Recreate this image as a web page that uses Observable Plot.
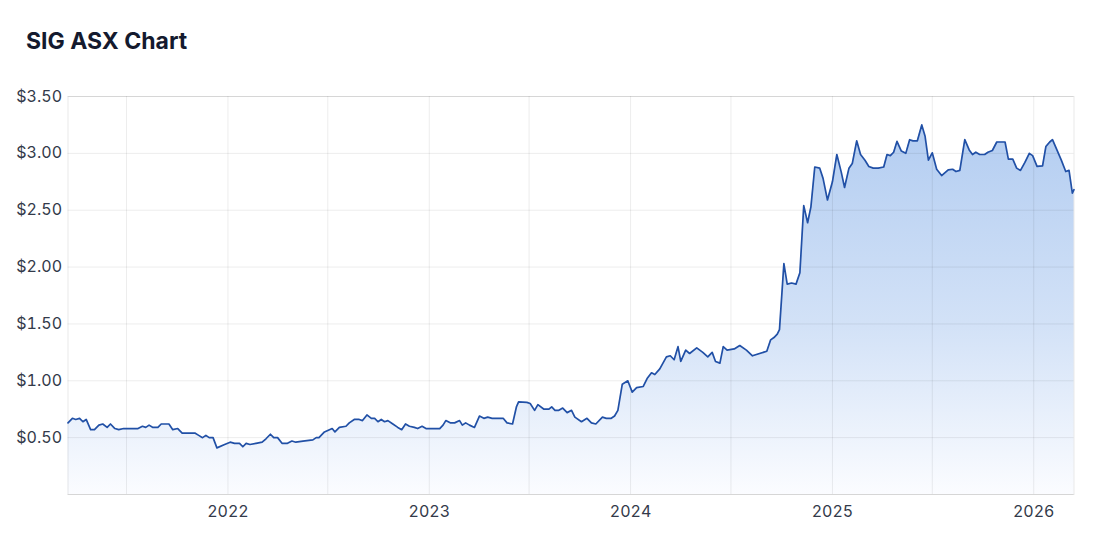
<!DOCTYPE html>
<html>
<head>
<meta charset="utf-8">
<script src="https://cdn.jsdelivr.net/npm/d3@7"></script>
<script src="https://cdn.jsdelivr.net/npm/@observablehq/plot@0.6"></script>
<style>
  html, body { margin: 0; padding: 0; background: #fff; }
  body { width: 1105px; height: 556px; overflow: hidden; font-family: Inter, "Noto Sans", sans-serif; }
  #title { height: 70px; box-sizing: border-box; padding: 26px 0 0 26px; font-size: 23px; font-weight: 700; color: #141a2e; line-height: 30px; }
  #chart svg { display: block; }
</style>
</head>
<body>
<div id="title">SIG ASX Chart</div>
<div id="chart"></div>
<script>
const dates = [
 "2021-03-17","2021-03-25","2021-03-31","2021-04-07","2021-04-13","2021-04-19","2021-04-27","2021-05-04","2021-05-12","2021-05-19",
 "2021-05-27","2021-06-02","2021-06-10","2021-06-17","2021-06-26","2021-07-22","2021-07-30","2021-08-05","2021-08-11","2021-08-18",
 "2021-08-27","2021-09-02","2021-09-16","2021-09-23","2021-10-02","2021-10-10","2021-11-02","2021-11-09","2021-11-16","2021-11-22",
 "2021-11-28","2021-12-05","2021-12-12","2021-12-26","2022-01-05","2022-01-13","2022-01-22","2022-01-28","2022-02-03","2022-02-10",
 "2022-02-21","2022-03-04","2022-03-11","2022-03-19","2022-03-25","2022-04-01","2022-04-09","2022-04-19","2022-04-27","2022-05-04",
 "2022-05-17","2022-06-04","2022-06-10","2022-06-15","2022-06-25","2022-07-04","2022-07-09","2022-07-14","2022-07-22","2022-08-03",
 "2022-08-09","2022-08-18","2022-08-27","2022-09-02","2022-09-10","2022-09-18","2022-09-24","2022-09-30","2022-10-06","2022-10-12",
 "2022-10-18","2022-10-27","2022-11-05","2022-11-12","2022-11-19","2022-11-26","2022-12-05","2022-12-11","2022-12-19","2022-12-26",
 "2023-01-20","2023-01-26","2023-01-31","2023-02-08","2023-02-16","2023-02-25","2023-03-02","2023-03-08","2023-03-15","2023-03-24",
 "2023-04-02","2023-04-10","2023-04-17","2023-04-25","2023-05-15","2023-05-22","2023-06-01","2023-06-08","2023-06-12","2023-06-27",
 "2023-07-03","2023-07-11","2023-07-17","2023-07-28","2023-08-06","2023-08-11","2023-08-17","2023-08-24","2023-08-31","2023-09-08",
 "2023-09-16","2023-09-22","2023-10-04","2023-10-14","2023-10-22","2023-10-30","2023-11-11","2023-11-18","2023-11-27","2023-12-03",
 "2023-12-09","2023-12-17","2023-12-27","2024-01-04","2024-01-12","2024-01-24","2024-01-31","2024-02-08","2024-02-14","2024-02-23",
 "2024-03-06","2024-03-13","2024-03-20","2024-03-27","2024-04-01","2024-04-10","2024-04-17","2024-04-30","2024-05-11","2024-05-20",
 "2024-05-28","2024-06-03","2024-06-11","2024-06-17","2024-06-24","2024-07-07","2024-07-17","2024-07-29","2024-08-09","2024-09-04",
 "2024-09-11","2024-09-17","2024-09-23","2024-09-27","2024-10-05","2024-10-11","2024-10-19","2024-10-27","2024-11-03","2024-11-10",
 "2024-11-17","2024-11-23","2024-11-30","2024-12-09","2024-12-15","2024-12-23","2025-01-01","2025-01-09","2025-01-17","2025-01-23",
 "2025-01-31","2025-02-06","2025-02-14","2025-02-21","2025-03-01","2025-03-08","2025-03-16","2025-03-25","2025-04-04","2025-04-10",
 "2025-04-16","2025-04-22","2025-04-28","2025-05-06","2025-05-14","2025-05-21","2025-05-27","2025-06-04","2025-06-12","2025-06-18",
 "2025-06-24","2025-07-01","2025-07-09","2025-07-18","2025-07-30","2025-08-07","2025-08-13","2025-08-20","2025-08-29","2025-09-06",
 "2025-09-12","2025-09-18","2025-09-25","2025-10-04","2025-10-10","2025-10-18","2025-10-26","2025-11-10","2025-11-16","2025-11-24",
 "2025-12-01","2025-12-08","2025-12-16","2025-12-24","2025-12-30","2026-01-07","2026-01-17","2026-01-23","2026-01-30","2026-02-04",
 "2026-02-12","2026-02-20","2026-02-28","2026-03-06","2026-03-12","2026-03-15"
];
const prices = [
 0.63,0.67,0.66,0.67,0.64,0.66,0.57,0.57,0.61,0.62,
 0.59,0.62,0.58,0.57,0.58,0.58,0.60,0.59,0.61,0.59,
 0.59,0.62,0.62,0.57,0.58,0.54,0.54,0.52,0.50,0.52,
 0.50,0.50,0.41,0.44,0.46,0.45,0.45,0.42,0.45,0.44,
 0.45,0.46,0.49,0.53,0.50,0.50,0.45,0.45,0.47,0.46,
 0.47,0.48,0.50,0.50,0.55,0.57,0.58,0.55,0.59,0.60,
 0.63,0.66,0.66,0.65,0.70,0.67,0.67,0.64,0.66,0.64,
 0.65,0.62,0.59,0.57,0.62,0.60,0.59,0.58,0.60,0.58,
 0.58,0.61,0.65,0.63,0.63,0.65,0.61,0.63,0.61,0.59,
 0.69,0.67,0.68,0.67,0.67,0.63,0.62,0.77,0.815,0.81,
 0.80,0.74,0.79,0.75,0.75,0.77,0.74,0.74,0.76,0.72,
 0.74,0.68,0.64,0.67,0.63,0.62,0.68,0.67,0.67,0.69,
 0.74,0.97,1.00,0.90,0.94,0.95,1.02,1.07,1.055,1.105,
 1.21,1.22,1.185,1.30,1.17,1.27,1.24,1.29,1.25,1.21,
 1.25,1.17,1.155,1.30,1.27,1.28,1.31,1.27,1.22,1.26,
 1.36,1.38,1.41,1.45,2.03,1.85,1.86,1.85,1.95,2.54,
 2.39,2.53,2.88,2.87,2.78,2.59,2.75,2.99,2.835,2.70,
 2.87,2.91,3.11,2.99,2.94,2.885,2.87,2.87,2.88,2.99,
 2.98,3.01,3.105,3.02,3.00,3.12,3.11,3.11,3.25,3.15,
 2.94,3.005,2.86,2.805,2.855,2.86,2.84,2.85,3.12,3.03,
 2.99,3.01,2.99,2.99,3.01,3.025,3.10,3.10,2.95,2.95,
 2.87,2.85,2.92,3.00,2.98,2.885,2.89,3.06,3.10,3.12,
 3.03,2.94,2.84,2.85,2.65,2.68
];
const yTicks = [0.5, 1.0, 1.5, 2.0, 2.5, 3.0, 3.5];
const yGrid = [0, 0.5, 1.0, 1.5, 2.0, 2.5, 3.0, 3.5];
const xLabelTicks = ["2022-01-01","2023-01-01","2024-01-01","2025-01-01","2026-01-01"];
const xGridTicks = ["2021-07-01","2022-01-01","2022-07-01","2023-01-01","2023-07-01","2024-01-01","2024-07-01","2025-01-01","2025-07-01","2026-01-01"];

const rows = dates.map((d, i) => ({date: new Date(d), price: prices[i]}));
const xLabelDates = xLabelTicks.map(d => new Date(d));
const xGridDates = xGridTicks.map(d => new Date(d));

const chart = Plot.plot({
  width: 1105,
  height: 486,
  marginTop: 26,
  marginBottom: 62,
  marginLeft: 67.5,
  marginRight: 31.5,
  style: {fontFamily: "Inter, 'Noto Sans', sans-serif", fontSize: "15px", color: "#333a4a", background: "#fff"},
  x: {type: "utc", domain: d3.extent(rows, d => d.date)},
  y: {domain: [0, 3.5]},
  marks: [
    Plot.areaY(rows, {x: "date", y: "price", fill: "url(#sigGrad)"}),
    Plot.gridX(xGridDates, {stroke: "#000", strokeOpacity: 0.075, strokeWidth: 1}),
    Plot.gridY(yGrid, {stroke: "#000", strokeOpacity: 0.075, strokeWidth: 1}),
    Plot.frame({stroke: "#000", strokeOpacity: 0.09}),
    Plot.lineY(rows, {x: "date", y: "price", stroke: "#2150a6", strokeWidth: 1.7, strokeLinejoin: "round"}),
    Plot.axisY(yTicks, {tickSize: 0, tickPadding: 6, tickFormat: d => "$" + d.toFixed(2), fontSize: 16, label: null}),
    Plot.axisX(xLabelDates, {tickSize: 0, tickPadding: 11, tickFormat: d3.utcFormat("%Y"), fontSize: 16, label: null})
  ]
});

const ns = "http://www.w3.org/2000/svg";
const defs = document.createElementNS(ns, "defs");
const grad = document.createElementNS(ns, "linearGradient");
grad.setAttribute("id", "sigGrad");
grad.setAttribute("x1", "0"); grad.setAttribute("y1", "0");
grad.setAttribute("x2", "0"); grad.setAttribute("y2", "1");
[["0%", "#b3cdf1"], ["55%", "#d3e2f7"], ["100%", "#fbfcff"]].forEach(([o, c]) => {
  const s = document.createElementNS(ns, "stop");
  s.setAttribute("offset", o);
  s.setAttribute("stop-color", c);
  grad.appendChild(s);
});
defs.appendChild(grad);
chart.insertBefore(defs, chart.firstChild);
document.getElementById("chart").appendChild(chart);
</script>
</body>
</html>
